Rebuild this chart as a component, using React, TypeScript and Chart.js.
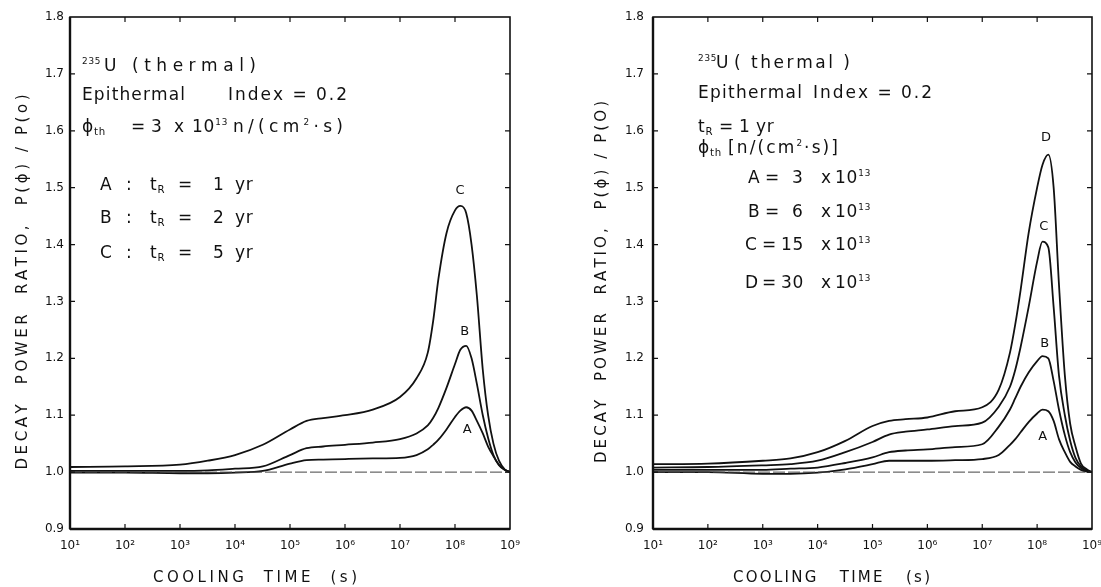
import React, { useEffect, useRef } from 'react';
import { Chart, registerables } from 'chart.js';

Chart.register(...registerables);

// ---------- DATA ----------
const coolingTimes = [1e1, 1e2, 1e3, 3.2e3, 1e4, 3.2e4, 1e5, 2e5, 4e5, 1e6, 3.2e6, 1e7, 2e7, 3.2e7, 4e7, 5e7, 7e7, 1e8, 1.25e8, 1.6e8, 2e8, 2.5e8, 3.2e8, 4e8, 5e8, 6.3e8, 8e8, 1e9];

// Left panel: irradiation time tR = 1, 2, 5 yr
const leftA = [0.999, 0.999, 0.998, 0.998, 0.999, 1.002, 1.015, 1.021, 1.022, 1.023, 1.024, 1.025, 1.030, 1.040, 1.048, 1.057, 1.075, 1.097, 1.108, 1.114, 1.108, 1.090, 1.068, 1.045, 1.028, 1.013, 1.004, 1.000];
const leftB = [1.002, 1.002, 1.002, 1.003, 1.006, 1.010, 1.030, 1.042, 1.045, 1.048, 1.052, 1.058, 1.068, 1.082, 1.095, 1.113, 1.148, 1.190, 1.215, 1.222, 1.200, 1.155, 1.100, 1.060, 1.030, 1.012, 1.004, 1.000];
const leftC = [1.009, 1.010, 1.013, 1.020, 1.030, 1.048, 1.075, 1.090, 1.095, 1.100, 1.110, 1.132, 1.165, 1.210, 1.265, 1.340, 1.420, 1.460, 1.468, 1.455, 1.400, 1.310, 1.180, 1.100, 1.050, 1.020, 1.005, 1.000];

// Right panel: thermal flux 3, 6, 15, 30 x 10^13
const rightA = [1.000, 1.000, 0.997, 0.997, 0.999, 1.005, 1.014, 1.020, 1.020, 1.020, 1.021, 1.023, 1.030, 1.048, 1.058, 1.070, 1.088, 1.103, 1.110, 1.107, 1.090, 1.058, 1.035, 1.018, 1.010, 1.004, 1.001, 1.000];
const rightB = [1.004, 1.004, 1.004, 1.006, 1.008, 1.016, 1.026, 1.035, 1.038, 1.040, 1.044, 1.049, 1.080, 1.110, 1.130, 1.150, 1.175, 1.195, 1.204, 1.200, 1.160, 1.110, 1.065, 1.035, 1.017, 1.007, 1.002, 1.000];
const rightC = [1.008, 1.009, 1.012, 1.014, 1.020, 1.035, 1.053, 1.066, 1.071, 1.075, 1.081, 1.087, 1.115, 1.150, 1.180, 1.220, 1.290, 1.370, 1.405, 1.395, 1.290, 1.170, 1.100, 1.055, 1.025, 1.010, 1.003, 1.000];
const rightD = [1.014, 1.015, 1.020, 1.024, 1.035, 1.055, 1.081, 1.090, 1.093, 1.096, 1.107, 1.114, 1.145, 1.210, 1.260, 1.320, 1.420, 1.500, 1.540, 1.558, 1.500, 1.330, 1.170, 1.085, 1.045, 1.015, 1.005, 1.000];

const decadeTicks = [1e1, 1e2, 1e3, 1e4, 1e5, 1e6, 1e7, 1e8, 1e9];
const yMin = 0.9;
const yMax = 1.8;
const yStep = 0.1;
const referenceRatio = 1.0;

// ---------- LAYOUT / STYLE ----------
const FAMILY = '"DejaVu Sans", sans-serif';
const INK = '#111';
const TEXT_SIZE = 17;
const SUP: Record<string, string> = { '0': '⁰', '1': '¹', '2': '²', '3': '³', '4': '⁴', '5': '⁵', '6': '⁶', '7': '⁷', '8': '⁸', '9': '⁹' };

type Seg = { t: string; k?: 'sup' | 'sub' };
type Chunk = { segs: Seg[]; x: number; y: number; w?: number };
type CurveLabel = { t: string; x: number; y: number };

type Panel = {
  offsetX: number;
  width: number;
  area: { left: number; right: number; top: number; bottom: number };
  yTickPad: number;
  yTitle: { text: string; cx: number; cy: number; w: number };
  xTitle: { text: string; x: number; y: number; w: number };
  chunks: Chunk[];
  curveLabels: CurveLabel[];
  series: number[][];
};

const N = (t: string): Seg => ({ t });
const SU = (t: string): Seg => ({ t, k: 'sup' });
const SB = (t: string): Seg => ({ t, k: 'sub' });
const C = (segs: Seg[] | string, x: number, y: number, w?: number): Chunk => ({
  segs: typeof segs === 'string' ? [N(segs)] : segs,
  x,
  y,
  w,
});

const leftRow = (letter: string, digit: string, y: number): Chunk[] => [
  C(letter, 100, y),
  C(':', 126, y),
  C([N('t'), SB('R')], 150, y),
  C('=', 178, y),
  C(digit, 213, y),
  C('yr', 235, y),
];

const rightRow = (letter: string, num: string, y: number, lx: number): Chunk[] => [
  C(letter, lx, y),
  C('=', lx + 17, y),
  C(num, num.length > 1 ? 781 : 792, y),
  C('x', 821, y),
  C([N('10'), SU('13')], 835, y),
];

const LEFT: Panel = {
  offsetX: 0,
  width: 560,
  area: { left: 70, right: 510, top: 17, bottom: 529 },
  yTickPad: 6,
  yTitle: { text: 'DECAY  POWER  RATIO,  P(ϕ) / P(o)', cx: 21, cy: 282, w: 375 },
  xTitle: { text: 'COOLING  TIME  (s)', x: 153, y: 582, w: 204 },
  chunks: [
    C([SU('235')], 82, 71),
    C('U', 104, 71),
    C('(thermal)', 132, 71, 124),
    C('Epithermal', 82, 100, 103),
    C('Index = 0.2', 228, 100, 119),
    C([N('ϕ'), SB('th')], 82, 132),
    C('=', 131, 132),
    C('3', 151, 132),
    C('x', 174, 132),
    C([N('10'), SU('13')], 192, 132),
    C([N('n/(cm'), SU('2'), N('·s)')], 233, 132, 110),
    ...leftRow('A', '1', 190),
    ...leftRow('B', '2', 223),
    ...leftRow('C', '5', 258),
  ],
  curveLabels: [
    { t: 'C', x: 1.23e8, y: 1.495 },
    { t: 'B', x: 1.5e8, y: 1.247 },
    { t: 'A', x: 1.66e8, y: 1.074 },
  ],
  series: [leftA, leftB, leftC],
};

const RIGHT: Panel = {
  offsetX: 560,
  width: 541,
  area: { left: 93, right: 532, top: 17, bottom: 529 },
  yTickPad: 9,
  yTitle: { text: 'DECAY  POWER  RATIO,  P(ϕ) / P(O)', cx: 600, cy: 282, w: 362 },
  xTitle: { text: 'COOLING   TIME   (s)', x: 733, y: 582, w: 197 },
  chunks: [
    C([SU('235')], 698, 68),
    C('U', 716, 68),
    C('( thermal )', 734, 68, 116),
    C('Epithermal', 698, 98, 104),
    C('Index = 0.2', 813, 98, 119),
    C([N('t'), SB('R')], 698, 132),
    C('=', 719, 132),
    C('1', 739, 132),
    C('yr', 756, 132),
    C([N('ϕ'), SB('th')], 698, 153),
    C([N('[n/(cm'), SU('2'), N('·s)]')], 728, 153, 110),
    ...rightRow('A', '3', 183, 748),
    ...rightRow('B', '6', 217, 748),
    ...rightRow('C', '15', 250, 745),
    ...rightRow('D', '30', 288, 745),
  ],
  curveLabels: [
    { t: 'D', x: 1.45e8, y: 1.588 },
    { t: 'C', x: 1.32e8, y: 1.432 },
    { t: 'B', x: 1.38e8, y: 1.225 },
    { t: 'A', x: 1.26e8, y: 1.063 },
  ],
  series: [rightA, rightB, rightC, rightD],
};

function drawSpaced(ctx: CanvasRenderingContext2D, segs: Seg[], x: number, y: number, w: number | undefined, base: number) {
  const chars: { ch: string; font: string; dy: number; cw: number }[] = [];
  for (const s of segs) {
    const size = s.k === 'sup' ? base * 0.52 : s.k === 'sub' ? base * 0.6 : base;
    const dy = s.k === 'sup' ? -base * 0.42 : s.k === 'sub' ? base * 0.2 : 0;
    const font = `${size}px ${FAMILY}`;
    ctx.font = font;
    for (const ch of Array.from(s.t)) {
      chars.push({ ch, font, dy, cw: ctx.measureText(ch).width });
    }
  }
  const natural = chars.reduce((a, c) => a + c.cw, 0);
  const extra = w !== undefined && chars.length > 1 ? (w - natural) / (chars.length - 1) : 0.8;
  let cx = x;
  for (const c of chars) {
    ctx.font = c.font;
    ctx.fillText(c.ch, cx, y + c.dy);
    cx += c.cw + extra;
  }
}

function makePlugin(p: Panel) {
  return {
    id: 'decoration',
    afterDraw(chart: any) {
      const { ctx, chartArea: a, scales } = chart;
      const xs = scales.x;
      const ys = scales.y;
      ctx.save();
      ctx.strokeStyle = INK;
      ctx.fillStyle = INK;
      // frame
      ctx.lineWidth = 1.6;
      ctx.strokeRect(a.left, a.top, a.right - a.left, a.bottom - a.top);
      ctx.lineWidth = 2.4;
      ctx.beginPath();
      ctx.moveTo(a.left, a.top);
      ctx.lineTo(a.left, a.bottom);
      ctx.moveTo(a.left, a.bottom);
      ctx.lineTo(a.right, a.bottom);
      ctx.stroke();
      // inward tick marks
      ctx.lineWidth = 1.2;
      ctx.beginPath();
      for (const t of xs.ticks) {
        const px = xs.getPixelForValue(t.value);
        if (px <= a.left + 1 || px >= a.right - 1) continue;
        ctx.moveTo(px, a.bottom);
        ctx.lineTo(px, a.bottom - 5);
        ctx.moveTo(px, a.top);
        ctx.lineTo(px, a.top + 5);
      }
      for (const t of ys.ticks) {
        const py = ys.getPixelForValue(t.value);
        if (py <= a.top + 1 || py >= a.bottom - 1) continue;
        ctx.moveTo(a.left, py);
        ctx.lineTo(a.left + 5, py);
        ctx.moveTo(a.right, py);
        ctx.lineTo(a.right - 5, py);
      }
      ctx.stroke();

      ctx.textBaseline = 'alphabetic';
      ctx.textAlign = 'left';
      for (const c of p.chunks) {
        drawSpaced(ctx, c.segs, c.x - p.offsetX, c.y, c.w, TEXT_SIZE);
      }
      drawSpaced(ctx, [N(p.xTitle.text)], p.xTitle.x - p.offsetX, p.xTitle.y, p.xTitle.w, 15);
      ctx.save();
      ctx.translate(p.yTitle.cx - p.offsetX, p.yTitle.cy);
      ctx.rotate(-Math.PI / 2);
      drawSpaced(ctx, [N(p.yTitle.text)], -p.yTitle.w / 2, 5.5, p.yTitle.w, 15);
      ctx.restore();
      // curve labels
      ctx.font = `13px ${FAMILY}`;
      ctx.textAlign = 'center';
      ctx.textBaseline = 'middle';
      for (const c of p.curveLabels) {
        ctx.fillText(c.t, xs.getPixelForValue(c.x), ys.getPixelForValue(c.y));
      }
      ctx.restore();
    },
  };
}

function build(canvas: HTMLCanvasElement, p: Panel) {
  const H = 587;
  const datasets: any[] = [
    {
      data: [
        { x: coolingTimes[0], y: referenceRatio },
        { x: coolingTimes[coolingTimes.length - 1], y: referenceRatio },
      ],
      borderColor: '#444',
      borderWidth: 1,
      borderDash: [12, 3],
      pointRadius: 0,
    },
    ...p.series.map((vals) => ({
      data: coolingTimes.map((t, i) => ({ x: t, y: vals[i] })),
      borderColor: INK,
      borderWidth: 1.8,
      pointRadius: 0,
      cubicInterpolationMode: 'monotone',
      fill: false,
    })),
  ];
  return new Chart(canvas, {
    type: 'line',
    data: { datasets },
    options: {
      responsive: false,
      animation: false,
      events: [],
      layout: { padding: { left: 0, top: p.area.top, right: p.width - p.area.right, bottom: 0 } },
      plugins: { legend: { display: false }, tooltip: { enabled: false }, title: { display: false } },
      scales: {
        x: {
          type: 'logarithmic',
          min: coolingTimes[0],
          max: coolingTimes[coolingTimes.length - 1],
          grid: { display: false, drawTicks: false },
          border: { display: false },
          ticks: {
            autoSkip: false,
            maxRotation: 0,
            padding: 10,
            color: INK,
            font: { family: FAMILY, size: 12 },
            callback: (v: any) => {
              const e = String(Math.round(Math.log10(Number(v))));
              return '10' + e.split('').map((d) => SUP[d]).join('');
            },
          },
          afterBuildTicks: (s: any) => {
            s.ticks = decadeTicks.map((v) => ({ value: v }));
          },
          afterFit: (s: any) => {
            s.height = H - p.area.bottom;
            s.paddingLeft = 0;
            s.paddingRight = 0;
          },
        },
        y: {
          type: 'linear',
          min: yMin,
          max: yMax,
          grid: { display: false, drawTicks: false },
          border: { display: false },
          ticks: {
            stepSize: yStep,
            padding: p.yTickPad,
            color: INK,
            font: { family: FAMILY, size: 12 },
            callback: (v: any) => Number(v).toFixed(1),
          },
          afterFit: (s: any) => {
            s.width = p.area.left;
            s.paddingTop = 0;
            s.paddingBottom = 0;
          },
        },
      },
    },
    plugins: [makePlugin(p)],
  } as any);
}

export default function App() {
  const leftRef = useRef<HTMLCanvasElement>(null);
  const rightRef = useRef<HTMLCanvasElement>(null);
  useEffect(() => {
    const c1 = build(leftRef.current!, LEFT);
    const c2 = build(rightRef.current!, RIGHT);
    return () => {
      c1.destroy();
      c2.destroy();
    };
  }, []);
  return (
    <div style={{ position: 'fixed', left: 0, top: 0, width: 1101, height: 587, background: '#fff' }}>
      <canvas ref={leftRef} width={LEFT.width} height={587} style={{ position: 'absolute', left: 0, top: 0 }} />
      <canvas ref={rightRef} width={RIGHT.width} height={587} style={{ position: 'absolute', left: RIGHT.offsetX, top: 0 }} />
    </div>
  );
}
